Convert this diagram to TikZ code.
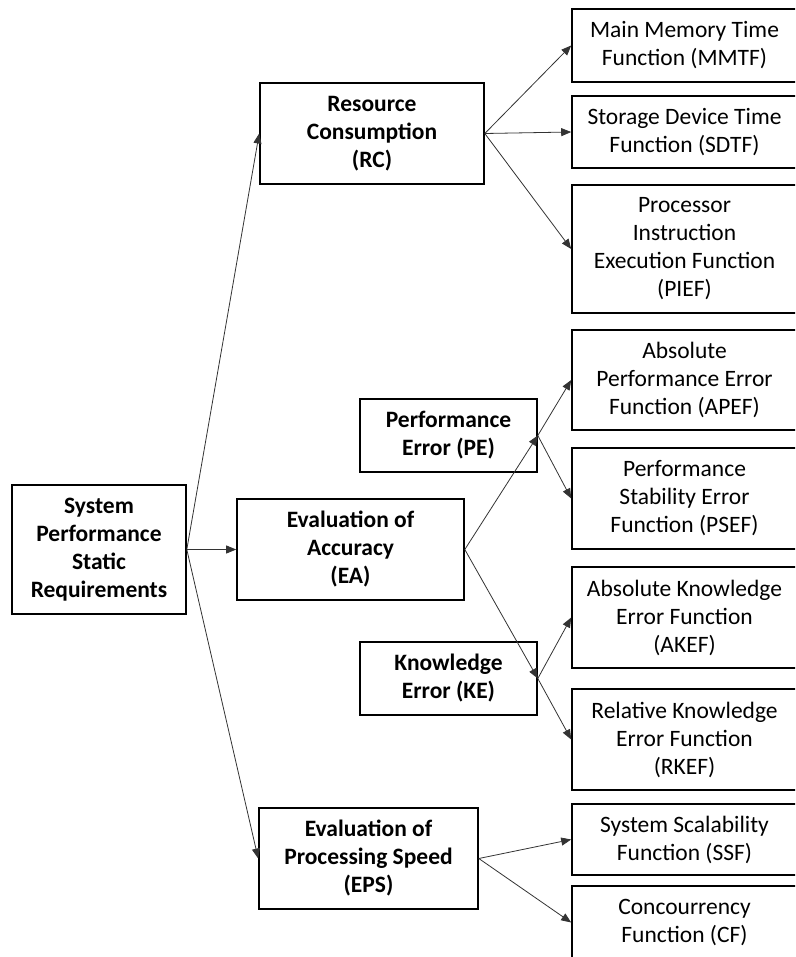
\documentclass[tikz,border=0pt]{standalone}
\usepackage{fontspec}
\setmainfont{Carlito}
\usetikzlibrary{arrows.meta}
\begin{document}
\begin{tikzpicture}[x=1pt,y=-1pt,
  box/.style={draw, line width=1.6pt, align=center, inner sep=0pt,
    font=\fontsize{23.5}{28}\selectfont},
  headbox/.style={box, font=\fontsize{23.5}{28}\selectfont\bfseries},
  leafbox/.style={box, minimum width=225pt},
  link/.style={draw=black!80, line width=0.8pt,
    -{Triangle[length=10pt,width=8pt]}},
]
\useasboundingbox (0,0) rectangle (795,957);
\clip (0,0) rectangle (795,957);

% root
\node[headbox, minimum width=174pt, minimum height=129pt] (spsr) at (99,549.5)
  {System\\Performance\\Static\\Requirements};

% second level
\node[headbox, minimum width=224pt, minimum height=101pt] (rc) at (372,133.5)
  {Resource\\Consumption\\(RC)};
\node[headbox, minimum width=227pt, minimum height=101pt] (ea) at (350.5,549.5)
  {Evaluation of\\Accuracy\\(EA)};
\node[headbox, minimum width=219pt, minimum height=101pt] (eps) at (368.5,858.5)
  {Evaluation of\\Processing Speed\\(EPS)};

% third level under accuracy
\node[headbox, minimum width=177pt, minimum height=73pt] (pe) at (448.5,435.5)
  {Performance\\Error (PE)};
\node[headbox, minimum width=177pt, minimum height=73pt] (ke) at (448.5,678.5)
  {Knowledge\\Error (KE)};

% leaf functions
\node[leafbox, minimum height=73pt] (mmtf) at (684.5,45.5)
  {Main Memory Time\\Function (MMTF)};
\node[leafbox, minimum height=72pt] (sdtf) at (684.5,132)
  {Storage Device Time\\Function (SDTF)};
\node[leafbox, minimum height=128pt] (pief) at (684.5,249)
  {Processor\\Instruction\\Execution Function\\(PIEF)};
\node[leafbox, minimum height=100pt] (apef) at (684.5,380)
  {Absolute\\Performance Error\\Function (APEF)};
\node[leafbox, minimum height=101pt] (psef) at (684.5,498.5)
  {Performance\\Stability Error\\Function (PSEF)};
\node[leafbox, minimum height=101pt] (akef) at (684.5,617.5)
  {Absolute Knowledge\\Error Function\\(AKEF)};
\node[leafbox, minimum height=101pt] (rkef) at (684.5,739.5)
  {Relative Knowledge\\Error Function\\(RKEF)};
\node[leafbox, minimum height=71pt] (ssf) at (684.5,839.5)
  {System Scalability\\Function (SSF)};
\node[leafbox, minimum height=73pt] (cf) at (684.5,922.5)
  {Concourrency\\Function (CF)};

% connectors
\draw[link] (spsr.east) -- (rc.west);
\draw[link] (spsr.east) -- (ea.west);
\draw[link] (spsr.east) -- (eps.west);

\draw[link] (rc.east) -- (mmtf.west);
\draw[link] (rc.east) -- (sdtf.west);
\draw[link] (rc.east) -- (pief.west);

\draw[link] (ea.east) -- (pe.east);
\draw[link] (ea.east) -- (ke.east);
\draw[link] (pe.east) -- (apef.west);
\draw[link] (pe.east) -- (psef.west);
\draw[link] (ke.east) -- (akef.west);
\draw[link] (ke.east) -- (rkef.west);

\draw[link] (eps.east) -- (ssf.west);
\draw[link] (eps.east) -- (cf.west);
\end{tikzpicture}
\end{document}
